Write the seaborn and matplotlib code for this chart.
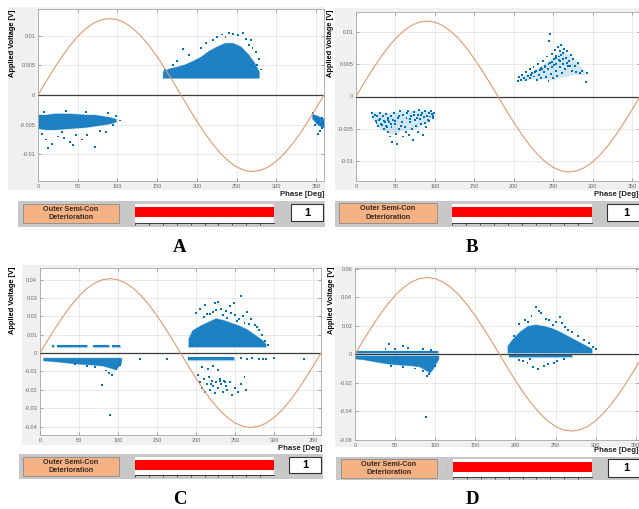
import numpy as np
import matplotlib.pyplot as plt
import seaborn as sns
from matplotlib.patches import Rectangle

# =============================================================
# DATA
# =============================================================
PANEL_NAMES = ['A', 'B', 'C', 'D']
STATUS_TEXT = 'Outer Semi-Con\nDeterioration'
GAUGE_LEVEL = [1.0, 1.0, 1.0, 1.0]
CLASS_COUNT = [1, 1, 1, 1]

X_TICKS = [0, 50, 100, 150, 200, 250, 300, 350]
X_MAX = [360, 360, 360, 354]

# reference voltage wave, sampled every 10 deg
PHASE_STEP = list(range(0, 361, 10))
SINE_SHAPE = [0.000, 0.174, 0.342, 0.500, 0.643, 0.766, 0.866, 0.940, 0.985, 1.000,
              0.985, 0.940, 0.866, 0.766, 0.643, 0.500, 0.342, 0.174, 0.000,
              -0.174, -0.342, -0.500, -0.643, -0.766, -0.866, -0.940, -0.985, -1.000,
              -0.985, -0.940, -0.866, -0.766, -0.643, -0.500, -0.342, -0.174, 0.000]
SINE_AMP = [0.0129, 0.0117, 0.0405, 0.054]

Y_LIMITS = [(-0.0145, 0.0145), (-0.0131, 0.0131), (-0.0446, 0.0463), (-0.0603, 0.0607)]
Y_TICKS = [[-0.01, -0.005, 0, 0.005, 0.01],
           [-0.01, -0.005, 0, 0.005, 0.01],
           [-0.04, -0.03, -0.02, -0.01, 0, 0.01, 0.02, 0.03, 0.04],
           [-0.06, -0.04, -0.02, 0, 0.02, 0.04, 0.06]]
Y_TICK_LABELS = [['-0.01', '-0.005', '0', '0.005', '0.01'],
                 ['-0.01', '-0.005', '0', '0.005', '0.01'],
                 ['-0.04', '-0.03', '-0.02', '-0.01', '0', '0.01', '0.02', '0.03', '0.04'],
                 ['-0.06', '-0.04', '-0.02', '0', '0.02', '0.04', '0.06']]

# ---- panel A : dense cores (phase, lower, upper) + scattered pulses
A_POS_PH = [157, 165, 175, 185, 195, 205, 215, 225, 235, 245, 255, 265, 272, 278]
A_POS_LO = [0.0029] * 14
A_POS_HI = [0.0040, 0.0045, 0.0048, 0.0052, 0.0058, 0.0065, 0.0075, 0.0082, 0.0088,
            0.0088, 0.0082, 0.0068, 0.0055, 0.0040]
A_NEG_PH = [0, 10, 20, 30, 40, 50, 60, 70, 80, 90, 98]
A_NEG_HI = [-0.0033, -0.0033, -0.0031, -0.0031, -0.0031, -0.0032, -0.0033, -0.0033,
            -0.0035, -0.0037, -0.0040]
A_NEG_LO = [-0.0056, -0.0058, -0.0058, -0.0057, -0.0056, -0.0055, -0.0054, -0.0052,
            -0.0050, -0.0048, -0.0045]
A_END_PH = [345, 352, 360]
A_END_HI = [-0.0032, -0.0035, -0.0040]
A_END_LO = [-0.0040, -0.0050, -0.0055]
A_PTS_PH = [183, 190, 175, 225, 232, 240, 246, 252, 258, 262, 266, 270, 274, 278, 281, 276,
            268, 160, 170, 205, 212, 220, 236,
            5, 10, 13, 18, 25, 33, 40, 48, 55, 62, 72, 78, 85, 95, 103, 98, 88, 60, 35, 8,
            44, 30,
            346, 348, 350, 352, 354, 356, 357, 358, 359, 352, 355, 349]
A_PTS_V = [0.0077, 0.0068, 0.0058, 0.0098, 0.0102, 0.0105, 0.0103, 0.0101, 0.0104, 0.0095,
           0.0085, 0.0080, 0.0072, 0.0060, 0.0043, 0.0050, 0.0092, 0.0042, 0.0050, 0.0080,
           0.0088, 0.0093, 0.0097,
           -0.0065, -0.0075, -0.0090, -0.0082, -0.0070, -0.0072, -0.0080, -0.0068, -0.0075,
           -0.0067, -0.0088, -0.0060, -0.0062, -0.0050, -0.0043, -0.0036, -0.0030, -0.0028,
           -0.0027, -0.0028, -0.0085, -0.0063,
           -0.0030, -0.0035, -0.0040, -0.0045, -0.0043, -0.0050, -0.0038, -0.0055, -0.0047,
           -0.0065, -0.0060, -0.0050]

# ---- panel B : sparse clouds (faint density outline + individual pulses)
B_NEG_PH = [20, 30, 45, 60, 75, 90, 99]
B_NEG_HI = [-0.0024, -0.0024, -0.0025, -0.0022, -0.0021, -0.0021, -0.0024]
B_NEG_LO = [-0.0034, -0.0050, -0.0058, -0.0052, -0.0050, -0.0040, -0.0030]
B_POS_PH = [206, 220, 235, 250, 262, 275, 290]
B_POS_LO = [0.0024, 0.0027, 0.0028, 0.0026, 0.0030, 0.0034, 0.0034]
B_POS_HI = [0.0030, 0.0038, 0.0048, 0.0062, 0.0072, 0.0060, 0.0040]
B_PTS_PH = [20, 22, 24, 25, 27, 28, 30, 31, 32, 34, 35, 36, 38, 38, 40, 40, 42, 43, 44, 45,
            46, 47, 48, 50, 51, 52, 54, 55, 56, 58, 59, 60, 62, 63, 64, 66, 67, 68, 70, 71,
            72, 74, 75, 76, 78, 79, 80, 81, 83, 84, 85, 86, 88, 89, 90, 92, 93, 95, 97, 99,
            26, 29, 33, 37, 41, 39, 44, 49, 53, 57, 65, 69, 73, 77, 82, 87, 91, 94, 96, 98,
            205, 207, 209, 211, 213, 215, 216, 218, 220, 221, 223, 225, 226, 228, 229, 231,
            232, 234, 235, 237, 238, 240, 241, 242, 243, 244, 245, 246, 246, 247, 248, 249,
            250, 251, 252, 253, 254, 255, 256, 257, 258, 259, 260, 261, 262, 263, 264, 265,
            266, 268, 269, 270, 272, 274, 275, 277, 279, 281, 284, 287, 291, 293,
            236, 239, 244, 248, 251, 254, 257, 260, 263, 267, 271, 222, 227, 233, 253, 258]
B_PTS_V = [-0.0025, -0.0032, -0.0028, -0.0038, -0.0030, -0.0045, -0.0035, -0.0025, -0.0042,
           -0.0030, -0.0050, -0.0038, -0.0027, -0.0046, -0.0033, -0.0055, -0.0040, -0.0062,
           -0.0030, -0.0048, -0.0070, -0.0036, -0.0025, -0.0043, -0.0058, -0.0073, -0.0030,
           -0.0050, -0.0022, -0.0040, -0.0062, -0.0028, -0.0047, -0.0055, -0.0033, -0.0022,
           -0.0060, -0.0040, -0.0030, -0.0050, -0.0068, -0.0024, -0.0037, -0.0045, -0.0028,
           -0.0055, -0.0021, -0.0035, -0.0042, -0.0026, -0.0060, -0.0032, -0.0022, -0.0048,
           -0.0030, -0.0025, -0.0038, -0.0022, -0.0030, -0.0026,
           -0.0041, -0.0036, -0.0044, -0.0040, -0.0037, -0.0047, -0.0042, -0.0038, -0.0034,
           -0.0045, -0.0026, -0.0035, -0.0029, -0.0033, -0.0028, -0.0041, -0.0036, -0.0031,
           -0.0027, -0.0034,
           0.0024, 0.0030, 0.0026, 0.0034, 0.0028, 0.0038, 0.0025, 0.0032, 0.0042, 0.0029,
           0.0036, 0.0046, 0.0031, 0.0040, 0.0025, 0.0050, 0.0034, 0.0044, 0.0028, 0.0055,
           0.0038, 0.0048, 0.0030, 0.0062, 0.0042, 0.0024, 0.0086, 0.0097, 0.0052, 0.0035,
           0.0066, 0.0045, 0.0028, 0.0058, 0.0072, 0.0040, 0.0050, 0.0032, 0.0076, 0.0062,
           0.0045, 0.0055, 0.0080, 0.0036, 0.0068, 0.0050, 0.0074, 0.0042, 0.0060, 0.0070,
           0.0048, 0.0055, 0.0065, 0.0040, 0.0058, 0.0048, 0.0038, 0.0052, 0.0036, 0.0040,
           0.0022, 0.0037,
           0.0042, 0.0046, 0.0050, 0.0054, 0.0049, 0.0060, 0.0057, 0.0064, 0.0058, 0.0052,
           0.0047, 0.0034, 0.0038, 0.0041, 0.0063, 0.0070]

# ---- panel C
C_BAND_START = [15, 22, 68, 92]
C_BAND_END = [18, 60, 88, 102]
C_BAND_LO, C_BAND_HI = 0.0031, 0.0045
C_NEG_PH = [4, 20, 35, 50, 65, 80, 90, 97, 104]
C_NEG_HI = [-0.0025] * 9
C_NEG_LO = [-0.0040, -0.0045, -0.0052, -0.0058, -0.0062, -0.0068, -0.0080, -0.0090, -0.0050]
C_POS_PH = [190, 195, 205, 215, 225, 235, 245, 255, 265, 275, 285, 289]
C_POS_LO = [0.0035] * 12
C_POS_HI = [0.0080, 0.0125, 0.0150, 0.0170, 0.0190, 0.0180, 0.0165, 0.0150, 0.0130,
            0.0100, 0.0070, 0.0050]
C_TAIL_PH = [190, 248]
C_TAIL_HI = [-0.0022, -0.0022]
C_TAIL_LO = [-0.0037, -0.0037]
C_PTS_PH = [79, 90, 88, 92, 85, 98, 60, 70, 45, 102,
            200, 205, 212, 218, 224, 228, 232, 238, 245, 250, 257, 260, 265, 270, 275, 280,
            285, 288, 292, 222, 210, 235, 255, 243, 268, 278, 248, 214, 226, 240, 252, 262,
            265, 272, 280, 290, 300, 128, 163, 338, 258, 286,
            203, 205, 207, 210, 212, 214, 216, 218, 220, 222, 224, 226, 228, 230, 232, 234,
            236, 238, 240, 243, 246, 250, 254, 258, 262, 264, 208, 215, 222, 228, 225, 231,
            219, 237]
C_PTS_V = [-0.0175, -0.0335, -0.0110, -0.0120, -0.0095, -0.0085, -0.0070, -0.0075, -0.0062,
           -0.0065,
           0.022, 0.024, 0.026, 0.021, 0.027, 0.028, 0.024, 0.023, 0.022, 0.0205, 0.031, 0.020,
           0.0225, 0.0185, 0.0155, 0.0125, 0.0100, 0.0065, 0.0045, 0.0225, 0.0195, 0.0205,
           0.0185, 0.0255, 0.016, 0.014, 0.027, 0.0215, 0.0235, 0.019, 0.0175, 0.0165,
           -0.0030, -0.0028, -0.0030, -0.0030, -0.0028, -0.0030, -0.0030, -0.0030, -0.0029,
           -0.0031,
           -0.012, -0.016, -0.019, -0.014, -0.021, -0.017, -0.013, -0.020, -0.015, -0.018,
           -0.022, -0.016, -0.019, -0.014, -0.017, -0.021, -0.015, -0.018, -0.020, -0.016,
           -0.023, -0.019, -0.021, -0.017, -0.013, -0.020, -0.0075, -0.0085, -0.0070, -0.0090,
           -0.0160, -0.0150, -0.0170, -0.0155]

# ---- panel D
D_BAND_PH = [0, 103]
D_BAND_LO = [0.0010, 0.0010]
D_BAND_HI = [0.0025, 0.0025]
D_NEG_PH = [0, 10, 25, 40, 55, 70, 80, 88, 93, 97, 104]
D_NEG_HI = [-0.0008] * 11
D_NEG_LO = [-0.0030, -0.0035, -0.0050, -0.0065, -0.0072, -0.0078, -0.0085, -0.0110,
            -0.0130, -0.0100, -0.0030]
D_POS_PH = [190, 195, 205, 215, 225, 235, 245, 255, 265, 275, 285, 295]
D_POS_LO = [0.0012] * 12
D_POS_HI = [0.0060, 0.0100, 0.0160, 0.0200, 0.0210, 0.0200, 0.0185, 0.0160, 0.0130,
            0.0100, 0.0070, 0.0040]
D_TAIL_PH = [192, 270]
D_TAIL_HI = [-0.0005, -0.0005]
D_TAIL_LO = [-0.0020, -0.0020]
D_PTS_PH = [38, 42, 50, 60, 66, 85, 95,
            89, 90, 92, 85, 75, 60, 45, 100,
            205, 212, 220, 226, 232, 238, 242, 255, 258, 262, 270, 278, 285, 292, 297, 300,
            198, 250, 229, 216, 247, 266,
            205, 215, 222, 228, 236, 240, 248, 252, 260, 218, 210]
D_PTS_V = [0.004, 0.0075, 0.004, 0.006, 0.0045, 0.0035, 0.003,
           -0.044, -0.0155, -0.014, -0.012, -0.010, -0.009, -0.0085, -0.008,
           0.021, 0.024, 0.027, 0.033, 0.029, 0.025, 0.024, 0.026, 0.022, 0.019, 0.016, 0.013,
           0.010, 0.008, 0.005, 0.004, 0.013, 0.023, 0.0305, 0.0225, 0.0205, 0.017,
           -0.004, -0.006, -0.009, -0.0105, -0.008, -0.007, -0.006, -0.0045, -0.003, -0.0035,
           -0.005]

# dense cores drawn solid, sparse clouds drawn faint
ENVELOPES = {
    'A': [(A_POS_PH, A_POS_LO, A_POS_HI), (A_NEG_PH, A_NEG_LO, A_NEG_HI),
          (A_END_PH, A_END_LO, A_END_HI)],
    'B': [],
    'C': [([s, e], [C_BAND_LO] * 2, [C_BAND_HI] * 2) for s, e in zip(C_BAND_START, C_BAND_END)]
         + [(C_NEG_PH, C_NEG_LO, C_NEG_HI), (C_POS_PH, C_POS_LO, C_POS_HI),
            (C_TAIL_PH, C_TAIL_LO, C_TAIL_HI)],
    'D': [(D_BAND_PH, D_BAND_LO, D_BAND_HI), (D_NEG_PH, D_NEG_LO, D_NEG_HI),
          (D_POS_PH, D_POS_LO, D_POS_HI), (D_TAIL_PH, D_TAIL_LO, D_TAIL_HI)],
}
FAINT = {'A': [], 'B': [(B_NEG_PH, B_NEG_LO, B_NEG_HI), (B_POS_PH, B_POS_LO, B_POS_HI)],
         'C': [], 'D': []}
POINTS = {'A': (A_PTS_PH, A_PTS_V), 'B': (B_PTS_PH, B_PTS_V),
          'C': (C_PTS_PH, C_PTS_V), 'D': (D_PTS_PH, D_PTS_V)}

# =============================================================
# LAYOUT (pixels of the 639x509 picture)
# =============================================================
W, H = 639, 509
LAYOUT = {
    'A': dict(plot=(38, 9, 324, 181), grey=(8, 7, 325, 190), ylab=(13, 10), phase=(325, 195),
              bar=(18, 201, 325, 227), orange=(23, 204, 119, 223), gauge=(135, 204, 274, 223),
              num=(291, 204, 323, 221), letter=(180, 247)),
    'B': dict(plot=(356, 12, 640, 181), grey=(335, 8, 639, 190), ylab=(330, 10), phase=(638, 195),
              bar=(335, 201, 639, 227), orange=(339, 203, 437, 223), gauge=(452, 204, 592, 223),
              num=(607, 204, 645, 221), letter=(472, 247)),
    'C': dict(plot=(40, 268, 321, 435), grey=(22, 265, 322, 445), ylab=(13, 267), phase=(323, 448),
              bar=(19, 454, 323, 479), orange=(23, 457, 119, 476), gauge=(135, 457, 274, 475),
              num=(289, 457, 321, 473), letter=(180, 500)),
    'D': dict(plot=(355, 268, 639, 440), grey=(335, 266, 639, 447), ylab=(332, 267), phase=(638, 450),
              bar=(336, 457, 639, 480), orange=(341, 459, 437, 478), gauge=(453, 459, 592, 477),
              num=(608, 459, 645, 477), letter=(472, 500)),
}

BLUE = '#0072BD'
ORANGE = '#e09a70'

plt.rcParams['font.family'] = ['Liberation Sans', 'DejaVu Sans']

fig = plt.figure(figsize=(W / 100, H / 100), dpi=100)
fig.patch.set_facecolor('white')


def fig_rect(box):
    l, t, r, b = box
    return [l / W, 1 - b / H, (r - l) / W, (b - t) / H]


def add_box(box, fc, ec='none', lw=0.0, z=0):
    l, t, r, b = box
    fig.add_artist(Rectangle((l / W, 1 - b / H), (r - l) / W, (b - t) / H,
                             transform=fig.transFigure, facecolor=fc,
                             edgecolor=ec, linewidth=lw, zorder=z))


for idx, name in enumerate(PANEL_NAMES):
    lay = LAYOUT[name]

    # MATLAB style grey figure area
    add_box(lay['grey'], '#f0f0f0', z=0)

    ax = fig.add_axes(fig_rect(lay['plot']))
    ax.set_zorder(2)
    ax.set_facecolor('white')

    for ph, lo, hi in ENVELOPES[name]:
        ax.fill_between(ph, lo, hi, color=BLUE, alpha=0.25, lw=1.0, edgecolor=BLUE, zorder=2)
        ax.fill_between(ph, lo, hi, color=BLUE, alpha=0.85, lw=0, zorder=2)
    for ph, lo, hi in FAINT[name]:
        ax.fill_between(ph, lo, hi, color=BLUE, alpha=0.18, lw=0, zorder=2)

    pts_ph, pts_v = POINTS[name]
    sns.scatterplot(x=pts_ph, y=pts_v, ax=ax, s=2.0, marker='s', color=BLUE,
                    edgecolor='none', linewidth=0, legend=False, zorder=3)

    ax.axhline(0, color='#3a3a3a', lw=0.9, zorder=4)
    wave = [SINE_AMP[idx] * v for v in SINE_SHAPE]
    sns.lineplot(x=PHASE_STEP, y=wave, ax=ax, color=ORANGE, lw=0.8, zorder=5)

    ax.set_xlim(0, X_MAX[idx])
    ax.set_ylim(*Y_LIMITS[idx])
    ax.set_xticks(X_TICKS)
    ax.set_xticklabels([str(t) for t in X_TICKS])
    ax.set_yticks(Y_TICKS[idx])
    ax.set_yticklabels(Y_TICK_LABELS[idx])
    ax.tick_params(direction='in', length=2, width=0.4, labelsize=4, colors='#6a6a6a',
                   top=True, right=True, pad=2)
    ax.grid(True, color='#e2e2e2', lw=0.5)
    ax.set_axisbelow(True)
    for sp in ax.spines.values():
        sp.set_color('#a8a8a8')
        sp.set_linewidth(0.6)
    ax.set_xlabel('')
    ax.set_ylabel('')

    # labels
    fig.text(lay['ylab'][0] / W, 1 - lay['ylab'][1] / H, 'Applied Voltage [V]',
             rotation=90, ha='center', va='top', fontsize=5.3, fontweight='bold')
    fig.text(lay['phase'][0] / W, 1 - lay['phase'][1] / H, 'Phase [Deg]',
             ha='right', va='center', fontsize=5.6, fontweight='bold', color='#222222')

    # status strip
    add_box(lay['bar'], '#c8c8c8', z=1)
    add_box(lay['orange'], '#f4b183', ec='#8c8c8c', lw=0.6, z=2)
    ol, ot, orr, ob = lay['orange']
    fig.text((ol + orr) / 2 / W, 1 - (ot + ob) / 2 / H, STATUS_TEXT, ha='center',
             va='center', fontsize=5.2, fontweight='bold', color='#3a2a20',
             linespacing=1.35, zorder=3)

    gax = fig.add_axes(fig_rect(lay['gauge']))
    gax.set_zorder(4)
    gax.set_facecolor('white')
    gax.barh([0], [GAUGE_LEVEL[idx]], height=0.6, color='#ff0000', left=0)
    gax.set_xlim(0, 1)
    gax.set_ylim(-0.62, 0.45)
    gax.set_xticks([i / 10 for i in range(10)])
    gax.set_xticklabels([])
    gax.set_yticks([])
    gax.tick_params(axis='x', direction='out', length=1.5, width=0.5, colors='#222222', pad=0)
    for key, sp in gax.spines.items():
        sp.set_visible(key == 'bottom')
    gax.spines['bottom'].set_color('#222222')
    gax.spines['bottom'].set_linewidth(0.6)
    gl, gt, gr, gb = lay['gauge']
    fig.text((gl - 5) / W, 1 - (gt + gb) / 2 / H, '.....', rotation=90, ha='center',
             va='center', fontsize=3, color='#777777', zorder=3)

    add_box(lay['num'], 'white', ec='#333333', lw=0.8, z=2)
    nl, nt, nr, nb = lay['num']
    fig.text((nl + nr) / 2 / W, 1 - (nt + nb) / 2 / H, str(CLASS_COUNT[idx]),
             ha='center', va='center', fontsize=8, fontweight='bold', zorder=3)

    fig.text(lay['letter'][0] / W, 1 - lay['letter'][1] / H, name, ha='center',
             va='center', fontsize=13.5, fontweight='bold', family='Liberation Serif')

fig.savefig('out.png', dpi=100)
